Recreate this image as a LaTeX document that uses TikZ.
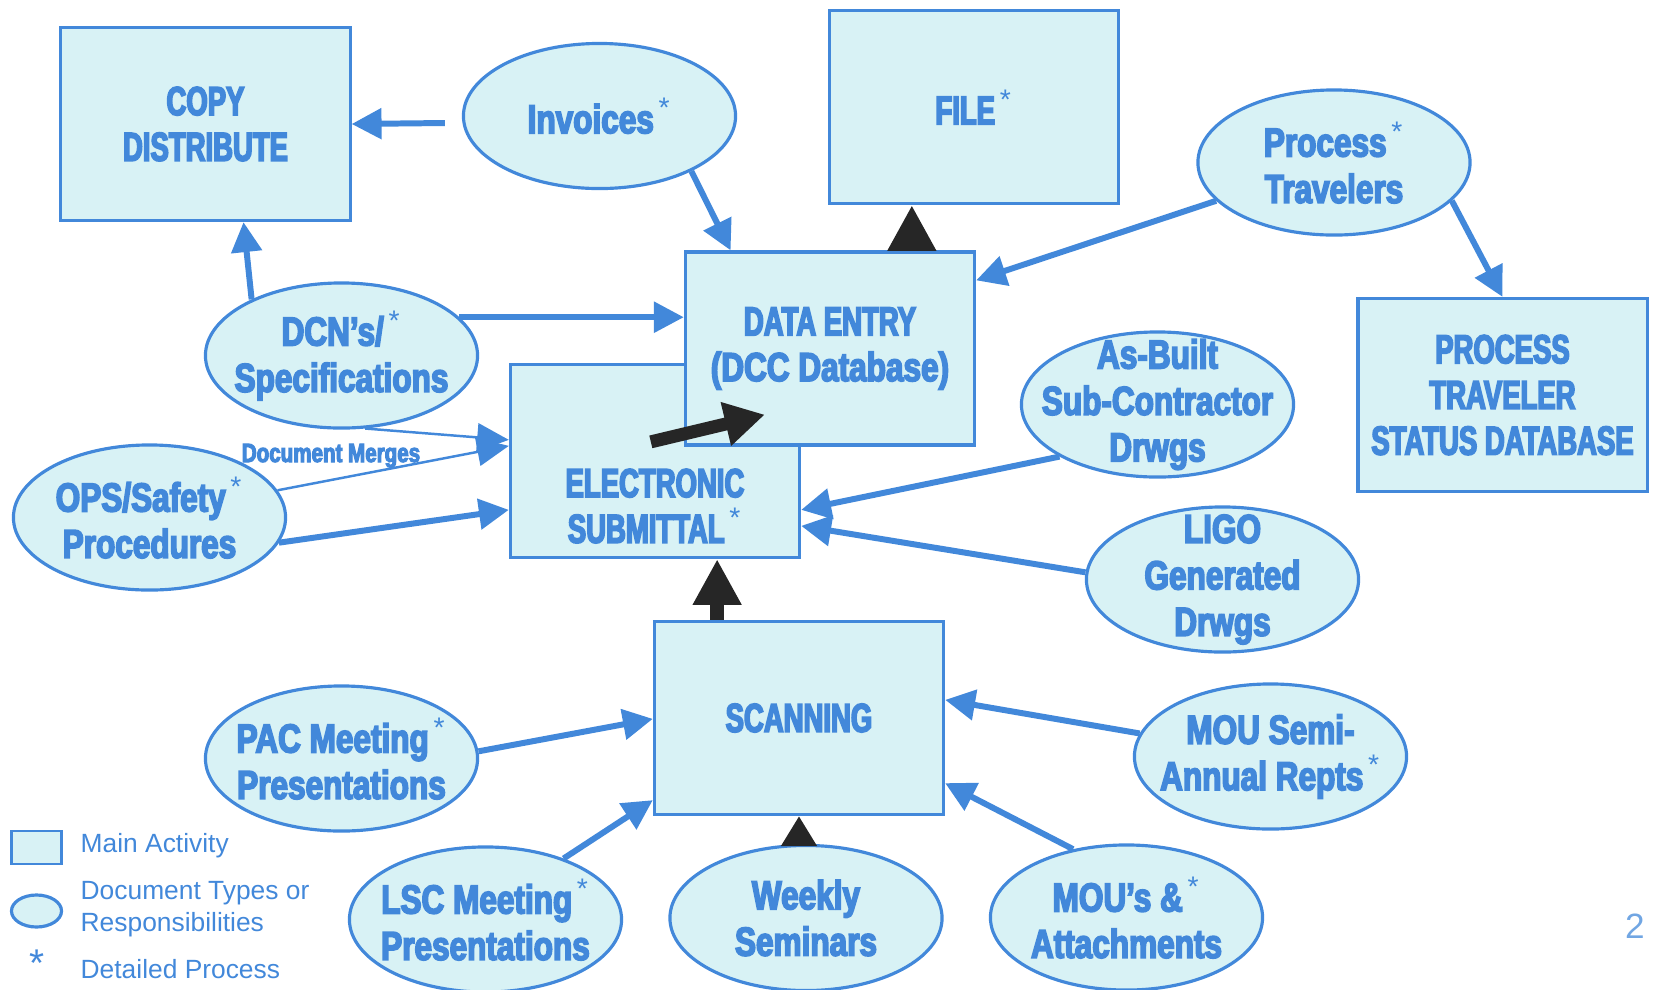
\documentclass[tikz,border=0pt]{standalone}
\usepackage{fontspec}
\setmainfont{Liberation Sans}
\newfontfamily\boxfont{Liberation Sans Bold}[FakeStretch=0.68,FakeBold=4]
\newfontfamily\ovalfont{Liberation Sans Bold}[FakeStretch=0.78,FakeBold=4]
\usetikzlibrary{calc,shapes.geometric,arrows.meta}
\definecolor{bleu}{RGB}{66,136,218}
\definecolor{fond}{RGB}{216,242,245}
\newcommand{\etoile}{\textsuperscript{\normalfont\,*}}

\begin{document}
\begin{tikzpicture}[x=0.01cm,y=-0.01cm,
    lettres/.style={text=bleu,align=center,font=\boxfont\fontsize{11.5}{13}\selectfont},
    boite/.style={lettres,draw=bleu,line width=0.9pt,fill=fond,minimum width=2.89cm,minimum height=1.93cm,inner sep=2pt},
    ovale/.style={ellipse,draw=bleu,line width=0.9pt,fill=fond,minimum width=2.72cm,minimum height=1.45cm,inner sep=0pt},
    texte/.style={text=bleu,align=center,font=\ovalfont\fontsize{11.5}{13.2}\selectfont},
    fleche/.style={-{Triangle[length=8.5pt,width=8.5pt]},line width=1.7pt,draw=bleu},
    fin/.style={-{Triangle[length=9pt,width=8pt]},line width=0.7pt,draw=bleu},
    noire/.style={-{Triangle[length=13pt,width=13pt]},line width=4pt,draw=black!85},
    legende/.style={text=bleu,font=\fontsize{7.5}{9.1}\selectfont,align=left,inner sep=0pt}]

    \useasboundingbox (0,0) rectangle (1653,990);

    % Les activités principales (rectangles)
    \node[boite] (copy) at (205.5,124) {COPY\\DISTRIBUTE};
    \node[boite] (file) at (974,107) {FILE\etoile};
    \node[boite,label={[lettres,yshift=-0.45cm]center:{ELECTRONIC\\SUBMITTAL\etoile}}] (elec) at (655,461) {};
    \node[boite] (data) at (830,348.5) {DATA ENTRY\\{\ovalfont (DCC Database)}};
    \node[boite] (status) at (1502.5,395) {PROCESS\\TRAVELER\\STATUS DATABASE};
    \node[boite] (scan) at (799,718) {SCANNING};

    % Les types de documents (ellipses)
    \node[ovale,label={[texte]center:{Invoices\etoile}}] (inv) at (599.5,116) {};
    \node[ovale,label={[texte]center:{Process\etoile\\Travelers}}] (proc) at (1334,162.5) {};
    \node[ovale,label={[texte]center:{DCN’s/\etoile\\Specifications}}] (dcn) at (341.5,355.5) {};
    \node[ovale,label={[texte]center:{As-Built\\Sub-Contractor\\Drwgs}}] (asb) at (1157.5,404.5) {};
    \node[ovale,label={[texte]center:{OPS/Safety\etoile\\Procedures}}] (ops) at (149.5,517.5) {};
    \node[ovale,label={[texte]center:{LIGO\\Generated\\Drwgs}}] (ligo) at (1222.5,579.5) {};
    \node[ovale,label={[texte]center:{PAC Meeting\etoile\\Presentations}}] (pac) at (341.5,758.5) {};
    \node[ovale,label={[texte]center:{MOU Semi-\\Annual Repts\etoile}}] (mous) at (1270.5,756.5) {};
    \node[ovale,label={[texte]center:{LSC Meeting\etoile\\Presentations}}] (lsc) at (485.5,919.5) {};
    \node[ovale,label={[texte]center:{Weekly\\Seminars}}] (week) at (806,918) {};
    \node[ovale,label={[texte]center:{MOU’s \&\etoile\\Attachments}}] (moua) at (1126.5,917.5) {};

    \node[texte,font=\ovalfont\fontsize{7.5}{9}\selectfont,anchor=base] (merge) at (331,462) {Document Merges};

    % Flèches bleues
    \draw[fleche] ($(inv.west)+(-17,7)$) -- (copy.east);
    \draw[fleche] (inv.-31) -- ($(data.north west)!0.16!(data.north east)$);
    \draw[fleche] (proc.198) -- ($(data.north east)+(0,30)$);
    \draw[fleche] (proc.-18) -- (status.north);
    \draw[fleche] (dcn.148) -- ($(copy.south west)!0.63!(copy.south east)$);
    \draw[fleche] (dcn.18) -- (dcn.18 -| data.west);
    \draw[fin] (dcn.-72) -- ($(elec.north west)+(0,77)$);
    \draw[fin] (ops.12) -- ($(elec.north west)+(0,83)$);
    \draw[fleche] (ops.-11) -- ($(elec.north west)+(0,147)$);
    \draw[fleche] (asb.208) -- ($(elec.north east)+(0,147)$);
    \draw[fleche] (ligo.177) -- ($(elec.north east)+(0,163)$);
    \draw[fleche] (pac.3) -- ($(scan.north west)+(0,99)$);
    \draw[fleche] (lsc.38) -- ($(scan.south west)+(0,-16)$);
    \draw[fleche] (mous.170) -- ($(scan.north east)+(0,80)$);
    \draw[fleche] (moua.128) -- ($(scan.south east)+(0,-33)$);

    % Flèches noires
    \coordinate (d1) at ($(data.north west)!0.78!(data.north east)$);
    \draw[noire] (d1) -- (d1 |- file.south);
    \coordinate (s1) at ($(scan.north west)!0.22!(scan.north east)$);
    \draw[noire] (s1) -- (s1 |- elec.south);
    \draw[noire,line width=3.7pt,-{Triangle[length=11.4pt,width=12pt]}] ($(elec.north west)+(142,79)$) -- ($(data.south west)+(81,-32)$);
    \draw[noire,line width=2pt,-{Triangle[length=8.5pt,width=9.7pt]}] (scan.south |- week.north) -- (scan.south);

    % Légende
    \node[draw=bleu,fill=fond,line width=0.8pt,minimum width=0.5cm,minimum height=0.33cm,inner sep=0pt] (leg-box) at (36.5,847.5) {};
    \node[ovale,minimum width=0.5cm,minimum height=0.32cm] (leg-ell) at (36.5,911) {};
    \node[text=bleu,font=\fontsize{11}{11}\selectfont] (leg-star) at (37,963) {*};
    \node[legende,anchor=base west] (leg-t1) at (80,852) {Main Activity};
    \node[legende,anchor=west] (leg-t2) at (80,909) {Document Types or\\Responsibilities};
    \node[legende,anchor=base west] (leg-t3) at (80,978) {Detailed Process};

    \node[text=bleu!75,font=\fontsize{10}{10}\selectfont] (page) at (1635,926) {2};
\end{tikzpicture}
\end{document}
